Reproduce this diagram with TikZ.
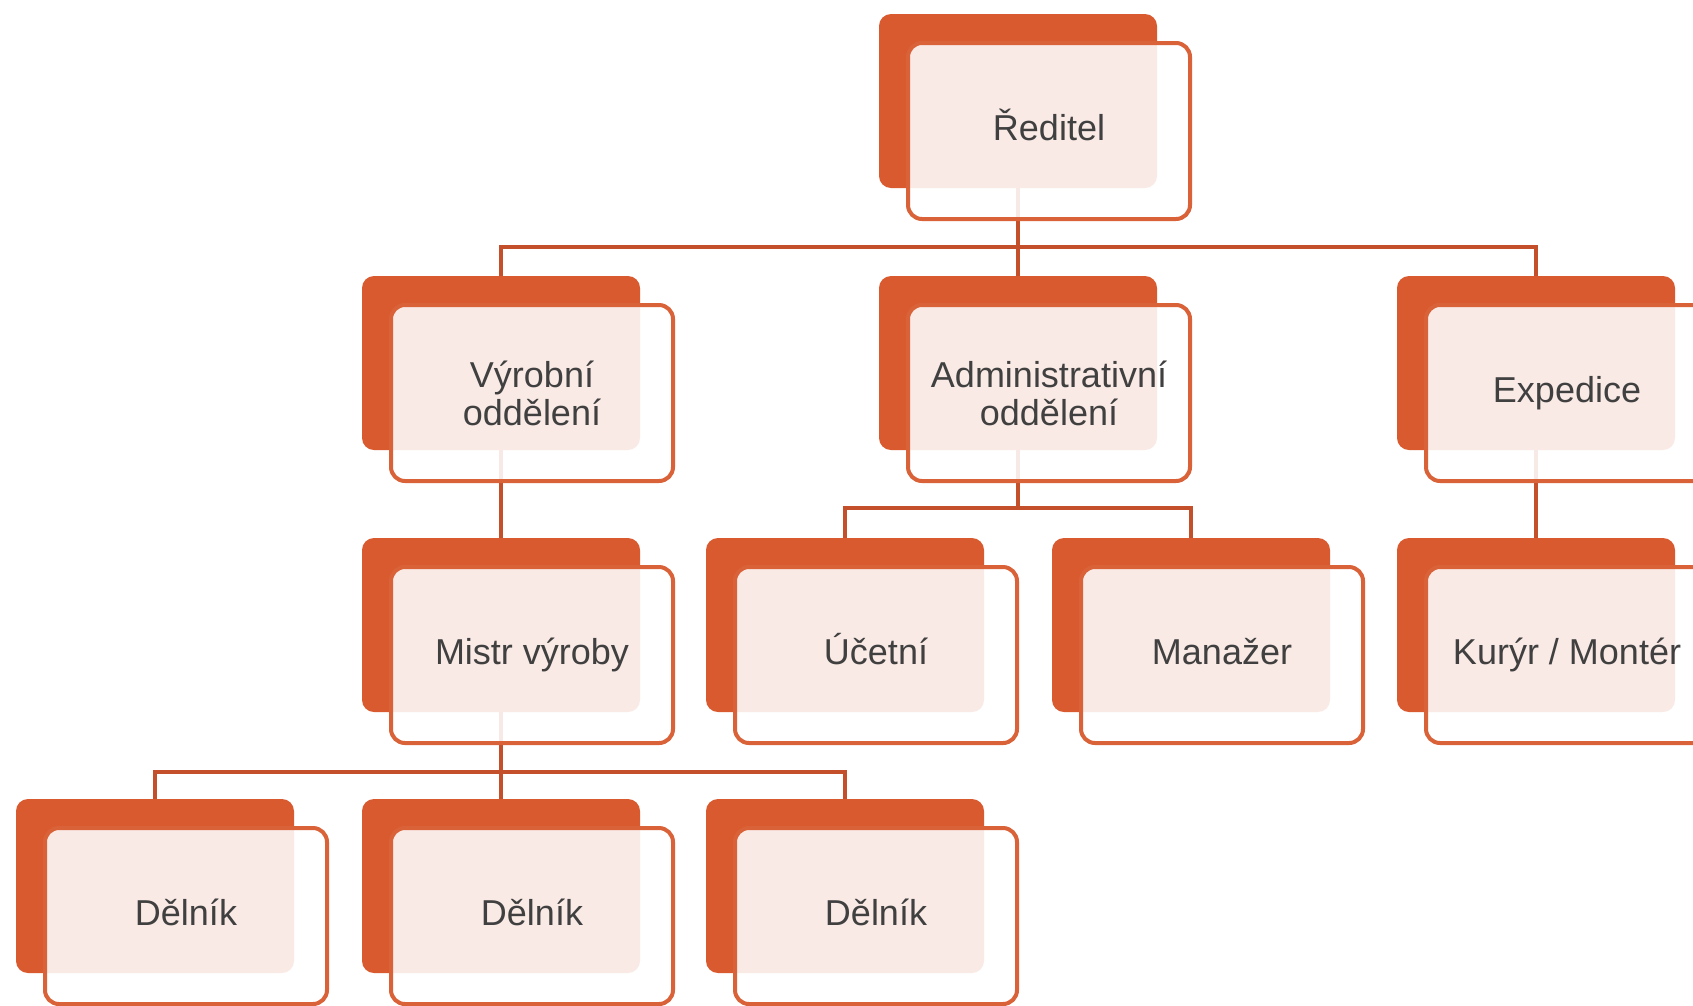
\documentclass[tikz,border=0pt]{standalone}
\usepackage{fontspec}
\setmainfont{Liberation Sans}
\usetikzlibrary{backgrounds}
\definecolor{orgback}{HTML}{D95A2F}
\definecolor{orgline}{HTML}{C4502B}
\definecolor{orgedge}{HTML}{DA6239}
\definecolor{txtgray}{HTML}{404040}

\begin{document}
\begin{tikzpicture}[x=1pt,y=-1pt,
	backbox/.style={fill=orgback,rounded corners=12pt,minimum width=278pt,minimum height=174pt,inner sep=0pt},
	frontbox/.style={draw=orgedge,line width=4pt,fill=white,fill opacity=0.88,text opacity=1,rounded corners=14pt,
		minimum width=282pt,minimum height=176pt,inner sep=0pt,align=center,text=txtgray,font=\fontsize{36}{38}\selectfont},
	oneline/.style={text height=26pt,text depth=7.6pt},
	conn/.style={draw=orgline,line width=4.5pt}]
	\clip (0,0) rectangle (1693,1005);
	% back cards
	\node[backbox] (reditel) at (1018,101) {};
	\node[backbox] (vyrobni) at (501,363) {};
	\node[backbox] (admin) at (1018,363) {};
	\node[backbox] (expedice) at (1536,363) {};
	\node[backbox] (mistr) at (501,625) {};
	\node[backbox] (ucetni) at (845,625) {};
	\node[backbox] (manazer) at (1191,625) {};
	\node[backbox] (kuryr) at (1536,625) {};
	\node[backbox] (delnikA) at (155,886) {};
	\node[backbox] (delnikB) at (501,886) {};
	\node[backbox] (delnikC) at (845,886) {};
	% front cards with the texts
	\node[frontbox,oneline] (reditelT) at ([shift={(31,30)}]reditel.center) {Ředitel};
	\node[frontbox] (vyrobniT) at ([shift={(31,30)}]vyrobni.center) {Výrobní\\oddělení};
	\node[frontbox] (adminT) at ([shift={(31,30)}]admin.center) {Administrativní\\oddělení};
	\node[frontbox,oneline] (expediceT) at ([shift={(31,30)}]expedice.center) {Expedice};
	\node[frontbox,oneline] (mistrT) at ([shift={(31,30)}]mistr.center) {Mistr výroby};
	\node[frontbox,oneline] (ucetniT) at ([shift={(31,30)}]ucetni.center) {Účetní};
	\node[frontbox,oneline] (manazerT) at ([shift={(31,30)}]manazer.center) {Manažer};
	\node[frontbox,oneline] (kuryrT) at ([shift={(31,30)}]kuryr.center) {Kurýr / Montér};
	\node[frontbox,oneline] (delnikAT) at ([shift={(31,30)}]delnikA.center) {Dělník};
	\node[frontbox,oneline] (delnikBT) at ([shift={(31,30)}]delnikB.center) {Dělník};
	\node[frontbox,oneline] (delnikCT) at ([shift={(31,30)}]delnikC.center) {Dělník};
	% connectors behind the cards
	\begin{scope}[on background layer]
		\draw[conn] (reditel.south) -- ++(0,59) -| (vyrobni.north);
		\draw[conn] (reditel.south) -- ++(0,59) -| (expedice.north);
		\draw[conn] (reditel.south) -- (admin.north);
		\draw[conn] (vyrobni.south) -- (mistr.north);
		\draw[conn] (admin.south) -- ++(0,58) -| (ucetni.north);
		\draw[conn] (admin.south) -- ++(0,58) -| (manazer.north);
		\draw[conn] (expedice.south) -- (kuryr.north);
		\draw[conn] (mistr.south) -- ++(0,60) -| (delnikA.north);
		\draw[conn] (mistr.south) -- ++(0,60) -| (delnikC.north);
		\draw[conn] (mistr.south) -- (delnikB.north);
	\end{scope}
\end{tikzpicture}
\end{document}
